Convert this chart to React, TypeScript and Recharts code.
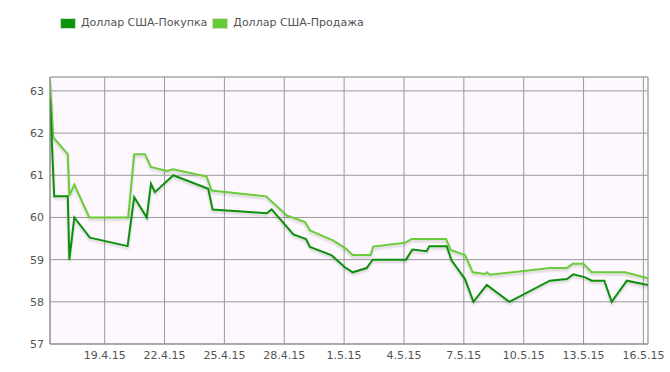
import React from "react";
import {
  LineChart,
  Line,
  XAxis,
  YAxis,
  CartesianGrid,
  ReferenceLine,
} from "recharts";

// Days counted from 16.4.15 00:00
const buyDays = [
  0.26, 0.47, 1.15, 1.23, 1.48, 2.26, 4.15, 4.48, 5.11, 5.32, 5.52, 6.44, 8.19,
  8.41, 11.12, 11.37, 12.46, 13.09, 13.29, 14.38, 15.04, 15.43, 16.13, 16.43,
  18.1, 18.42, 19.14, 19.27, 20.14, 20.39, 21.06, 21.48, 22.15, 23.28, 25.31,
  26.16, 26.49, 27.08, 27.41, 28.04, 28.41, 29.17, 30.23,
];
const buyValues = [
  62.83, 60.5, 60.5, 59.0, 60.0, 59.52, 59.32, 60.48, 60.0, 60.8, 60.6, 61.0,
  60.68, 60.19, 60.1, 60.19, 59.6, 59.49, 59.3, 59.1, 58.82, 58.7, 58.8, 59.0,
  59.0, 59.24, 59.2, 59.32, 59.32, 58.98, 58.54, 58.0, 58.4, 58.0, 58.5, 58.54,
  58.65, 58.58, 58.5, 58.5, 58.0, 58.5, 58.4,
];

const sellDays = [
  0.26, 0.42, 1.15, 1.23, 1.48, 2.23, 4.18, 4.48, 5.02, 5.32, 6.11, 6.44, 8.11,
  8.36, 11.09, 12.12, 13.04, 13.29, 14.46, 15.04, 15.43, 16.33, 16.46, 18.05,
  18.39, 20.11, 20.34, 21.06, 21.45, 22.06, 22.15, 22.31, 25.31, 26.16, 26.46,
  26.99, 27.41, 29.08, 30.23,
];
const sellValues = [
  63.25, 61.9, 61.5, 60.52, 60.78, 60.0, 60.0, 61.5, 61.5, 61.2, 61.1, 61.14,
  60.97, 60.64, 60.5, 60.05, 59.89, 59.69, 59.45, 59.28, 59.11, 59.11, 59.31,
  59.4, 59.49, 59.49, 59.23, 59.11, 58.7, 58.66, 58.7, 58.64, 58.8, 58.8, 58.9,
  58.9, 58.7, 58.7, 58.56,
];

const xTicks = [3, 6, 9, 12, 15, 18, 21, 24, 27, 30];
const xTickLabels = [
  "19.4.15",
  "22.4.15",
  "25.4.15",
  "28.4.15",
  "1.5.15",
  "4.5.15",
  "7.5.15",
  "10.5.15",
  "13.5.15",
  "16.5.15",
];
const yTicks = [57, 58, 59, 60, 61, 62, 63];

const seriesNames = ["Доллар США-Покупка", "Доллар США-Продажа"];
const seriesColors = ["#118f11", "#6acb3a"];
const legendColors = ["#0a960a", "#66cc33"];

const X_MIN = 0.26;
const X_MAX = 30.23;
const Y_MIN = 57;
const Y_MAX = 63.33;

const buyData = buyDays.map((d, i) => ({ d, v: buyValues[i] }));
const sellData = sellDays.map((d, i) => ({ d, v: sellValues[i] }));

const FONT = "'DejaVu Sans', sans-serif";
const TEXT = "#545454";

const LegendContent = () => (
  <div
    style={{
      position: "absolute",
      top: 17,
      left: 60,
      display: "flex",
      alignItems: "center",
      fontFamily: FONT,
      fontSize: 11,
      lineHeight: "12px",
      color: TEXT,
      whiteSpace: "nowrap",
    }}
  >
    {seriesNames.map((n, i) => (
      <div key={n} style={{ display: "flex", alignItems: "center" }}>
        <div
          style={{
            width: 14,
            height: 9,
            border: "1px solid #d8d8d8",
            background: legendColors[i],
            marginRight: 5,
            marginLeft: i === 0 ? 0 : 5,
          }}
        />
        <span>{n}</span>
      </div>
    ))}
  </div>
);

export default function App() {
  return (
    <div
      style={{
        position: "absolute",
        left: 0,
        top: 0,
        width: 670,
        height: 372,
        background: "#ffffff",
        fontFamily: FONT,
      }}
    >
      <LineChart
        width={670}
        height={372}
        margin={{ top: 77, right: 22, left: 0, bottom: 0 }}
      >
        <defs>
          <filter id="shadow" x="-5%" y="-5%" width="110%" height="120%">
            <feDropShadow
              dx="0"
              dy="2"
              stdDeviation="1"
              floodColor="#000"
              floodOpacity="0.18"
            />
          </filter>
        </defs>
        <CartesianGrid stroke="#999999" fill="#fdf8fd" />
        <XAxis
          type="number"
          dataKey="d"
          domain={[X_MIN, X_MAX]}
          ticks={xTicks}
          allowDataOverflow
          height={28}
          tickSize={0}
          tickMargin={7}
          tickFormatter={(v: number) => xTickLabels[xTicks.indexOf(v)] ?? ""}
          tick={{ fill: TEXT, fontSize: 11, fontFamily: FONT }}
          axisLine={{ stroke: "#8a8a8a" }}
        />
        <YAxis
          type="number"
          dataKey="v"
          domain={[Y_MIN, Y_MAX]}
          ticks={yTicks}
          allowDataOverflow
          width={50}
          tickSize={0}
          tickMargin={6}
          tick={{ fill: TEXT, fontSize: 11, fontFamily: FONT }}
          axisLine={{ stroke: "#8a8a8a" }}
        />
        <ReferenceLine y={Y_MAX} stroke="#b0b0b0" />
        <ReferenceLine x={X_MAX} stroke="#b0b0b0" />
        <Line
          data={sellData}
          dataKey="v"
          name={seriesNames[1]}
          type="linear"
          stroke={seriesColors[1]}
          strokeWidth={2}
          dot={false}
          activeDot={false}
          isAnimationActive={false}
          filter="url(#shadow)"
        />
        <Line
          data={buyData}
          dataKey="v"
          name={seriesNames[0]}
          type="linear"
          stroke={seriesColors[0]}
          strokeWidth={2}
          dot={false}
          activeDot={false}
          isAnimationActive={false}
          filter="url(#shadow)"
        />
      </LineChart>
      <LegendContent />
    </div>
  );
}
